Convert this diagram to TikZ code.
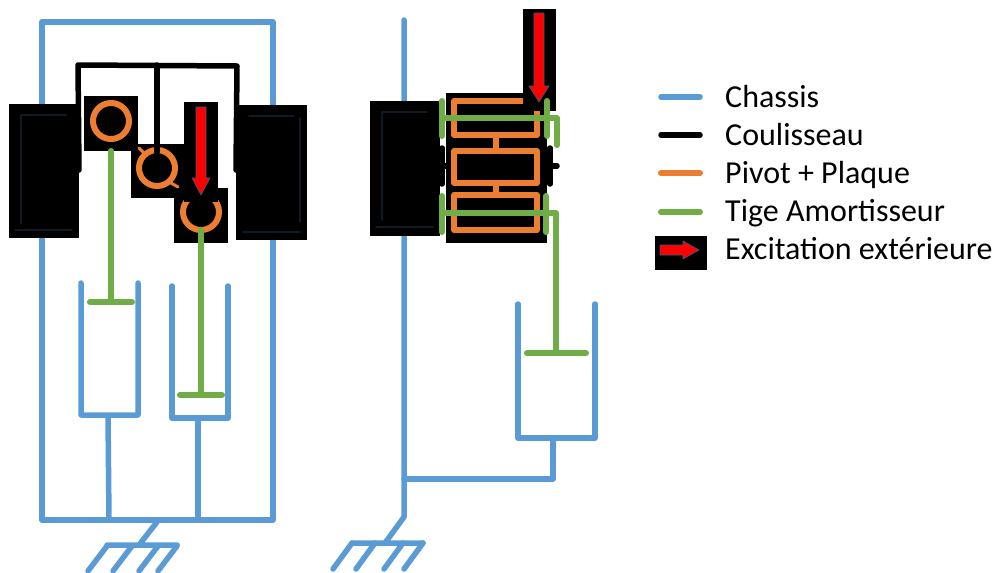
\documentclass[tikz,border=0pt]{standalone}
\usepackage{fontspec}
\setmainfont{Carlito}
\definecolor{chassisblue}{HTML}{5B9BD5}
\definecolor{pivotorange}{HTML}{ED7D31}
\definecolor{tigegreen}{HTML}{70AD47}
\definecolor{glowdark}{HTML}{101A24}
\tikzset{
	chassis/.style={draw=chassisblue,line width=5.5pt},
	coulisseau/.style={draw=black,line width=5.5pt},
	pivot/.style={draw=pivotorange,line width=6pt},
	tige/.style={draw=tigegreen,line width=6pt},
	blackbox/.style={fill=black,draw=none},
	glow/.style={draw=glowdark,line width=1.5pt},
	excitation/.style={fill=red,draw=chassisblue!60!black,line width=.6pt},
	legendtext/.style={anchor=base west,inner sep=0pt,font=\fontsize{32}{36}\selectfont}
}
\begin{document}
\begin{tikzpicture}[x=1pt,y=-1pt,line join=round,line cap=round]
	\useasboundingbox (0,0) rectangle (999,573);
	% schema de gauche : chassis
	\draw[chassis] (42,520)--(42,22)--(273,22)--(273,520)--cycle;
	\draw[chassis] (81,283)--(81,415)--(138,415)--(138,283) (108,415)--(109,520);
	\draw[chassis] (172,286)--(172,418)--(228,418)--(228,286) (198,418)--(198,520);
	\draw[chassis] (157,522)--(139,545) (107,545)--(177,545);
	\foreach \x in{107,132,158,177} \draw[chassis] (\x,546)--++(-19,25);
	% patins
	\fill[blackbox] (9,104) rectangle (79,238);
	\fill[blackbox] (236,105) rectangle (307,240);
	\draw[glow] (66,115)--(21,115)--(21,224) (15,230)--(72,230);
	\draw[glow] (294,116)--(249,116) (300,118)--(300,222) (243,232)--(300,232);
	% pivots
	\fill[blackbox] (84,96) rectangle (138,151);
	\fill[blackbox] (131,144) rectangle (185,198);
	\fill[blackbox] (174,188) rectangle (228,243);
	\draw[pivot] (111,121) circle (18);
	\draw[pivot] (157,168) circle (18);
	\draw[pivot] (201,212) circle (18);
	\draw[pivot,line width=3pt] (139,148)--(145,154) (171,183)--(178,187);
	% coulisseau
	\draw[coulisseau] (79,170)--(78,65)--(237,66)--(236,170);
	\draw[coulisseau] (157,65)--(157,152);
	% tiges
	\draw[tige] (111,151)--(111,302) (90,302)--(132,302);
	\draw[tige] (201,230)--(201,395) (180,395)--(222,395);
	% excitation gauche
	\fill[blackbox] (184,102) rectangle (218,202);
	\draw[excitation] (196,107)--(206,107)--(206,178)--(210,178)--(201,195)--(192,178)--(196,178)--cycle;
	% schema de droite : chassis
	\draw[chassis] (404,20)--(404,517)--(385,543) (352,543)--(423,543);
	\foreach \x in{352,375,403,423} \draw[chassis] (\x,543)--++(-19,26);
	\draw[chassis] (404,479)--(553,479)--(553,438);
	\draw[chassis] (518,304)--(518,438)--(595,438)--(595,304);
	% patin et plaques
	\fill[blackbox] (370,101) rectangle (440,236);
	\draw[glow] (427,112)--(382,112)--(382,220) (376,227)--(433,227);
	\fill[blackbox] (446,93) rectangle (547,243);
	\draw[pivot] (454,101) rectangle (537,135);
	\draw[pivot] (454,151) rectangle (537,183);
	\draw[pivot] (454,195) rectangle (537,230);
	\draw[pivot] (496,135)--(496,151) (496,183)--(496,195);
	% coulisseau
	\draw[coulisseau] (442,148)--(442,184) (434,166)--(446,166);
	\draw[coulisseau] (550,148)--(550,184) (550,166)--(557,166);
	% excitation droite
	\fill[blackbox] (523,9) rectangle (556,111);
	\draw[excitation] (534,13)--(544,13)--(544,86)--(549,86)--(539,102)--(529,86)--(534,86)--cycle;
	% tiges
	\draw[tige] (442,101)--(442,136) (547,101)--(547,136);
	\draw[tige] (442,118)--(557,118)--(557,145);
	\draw[tige] (442,196)--(442,232) (546,196)--(546,232);
	\draw[tige] (442,213)--(556,213)--(556,353) (527,353)--(586,353);
	% legende
	\foreach \nom/\y/\sty in{chassislegend/97/chassis,coulisseaulegend/135/coulisseau,pivotlegend/173/pivot,tigelegend/212/tige}{
		\coordinate (\nom a) at (661,\y);
		\coordinate (\nom b) at (700,\y);
		\draw[\sty] (\nom a)--(\nom b);
	}
	\node[legendtext] (chassistext) at (725,107) {Chassis};
	\node[legendtext] (coulisseautext) at (725,145) {Coulisseau};
	\node[legendtext] (pivottext) at (725,183) {Pivot + Plaque};
	\node[legendtext] (tigetext) at (725,221) {Tige Amortisseur};
	\node[legendtext] (excitationtext) at (725,259) {Excitation extérieure};
	\fill[blackbox] (655,236) rectangle (707,270);
	\draw[excitation] (660,245)--(683,245)--(683,241)--(699,250)--(683,259)--(683,255)--(660,255)--cycle;
\end{tikzpicture}
\end{document}
